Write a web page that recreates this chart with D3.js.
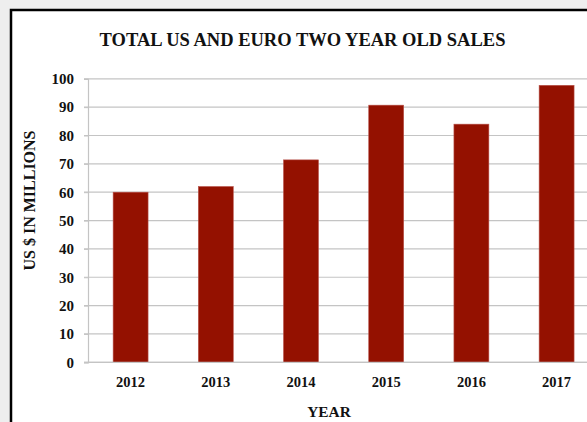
<!DOCTYPE html>
<html>
<head>
<meta charset="utf-8">
<script src="https://cdn.jsdelivr.net/npm/d3@7"></script>
<style>
  html, body { margin: 0; padding: 0; background: #eeeeee; }
  svg { display: block; }
  text { font-family: "Liberation Serif", "Times New Roman", serif; font-weight: bold; fill: #111; }
</style>
</head>
<body>
<svg id="chart"></svg>
<script>
// データ
const years = ["2012", "2013", "2014", "2015", "2016", "2017"];
const sales = [60, 62, 71.4, 90.7, 84, 97.7];
const yTicks = [0, 10, 20, 30, 40, 50, 60, 70, 80, 90, 100];

const width = 587, height = 422;
const svg = d3.select("#chart").attr("width", width).attr("height", height);

// 白いパネル（右と下ははみ出す）
svg.append("rect")
    .attr("x", 11).attr("y", 10)
    .attr("width", 600).attr("height", 450)
    .attr("fill", "#fff")
    .attr("stroke", "#000")
    .attr("stroke-width", 2.5);

const x = d3.scaleBand().domain(years).range([88, 88 + 6 * 85.2]).paddingInner(0.59).paddingOuter(0.295);
const y = d3.scaleLinear().domain([0, 100]).range([362.3, 78.8]);

// グリッド線
svg.append("g")
    .selectAll("line")
    .data(yTicks)
    .enter().append("line")
    .attr("x1", 84).attr("x2", width)
    .attr("y1", d => y(d)).attr("y2", d => y(d))
    .attr("stroke", "#c4c4c4")
    .attr("stroke-width", 1.2);

// y軸
const yaxis = svg.append("g")
    .attr("transform", "translate(88,0)")
    .call(d3.axisLeft(y).tickValues(yTicks).tickSize(4).tickPadding(10));
yaxis.select(".domain").attr("stroke", "#c4c4c4").attr("stroke-width", 1.2);
yaxis.selectAll(".tick line").attr("stroke", "#c4c4c4");
yaxis.selectAll(".tick text").style("font-size", "15px").style("fill", "#111");

// 棒
svg.append("g")
    .selectAll("rect")
    .data(years)
    .enter().append("rect")
    .attr("x", d => x(d))
    .attr("y", (d, i) => y(sales[i]))
    .attr("width", x.bandwidth())
    .attr("height", (d, i) => y(0) - y(sales[i]))
    .attr("fill", "#941100")
    .attr("stroke", "#b8524a")
    .attr("stroke-width", 0.6);

// x軸
const xaxis = svg.append("g")
    .attr("transform", `translate(0,${y(0)})`)
    .call(d3.axisBottom(x).tickSize(0).tickPadding(14));
xaxis.select(".domain").remove();
svg.append("line")
    .attr("x1", 84).attr("x2", width)
    .attr("y1", y(0)).attr("y2", y(0))
    .attr("stroke", "#c4c4c4").attr("stroke-width", 1.2);
xaxis.selectAll(".tick text").style("font-size", "14.5px").style("fill", "#111");

// タイトル
svg.append("text")
    .attr("x", 302.5).attr("y", 45.5)
    .attr("text-anchor", "middle")
    .style("font-size", "18.5px")
    .text("TOTAL US AND EURO TWO YEAR OLD SALES");

// 軸ラベル
svg.append("text")
    .attr("x", 329).attr("y", 417)
    .attr("text-anchor", "middle")
    .style("font-size", "15.4px")
    .text("YEAR");

svg.append("text")
    .attr("transform", "translate(35,200.5) rotate(-90)")
    .attr("text-anchor", "middle")
    .style("font-size", "16px")
    .text("US $ IN MILLIONS");
</script>
</body>
</html>
